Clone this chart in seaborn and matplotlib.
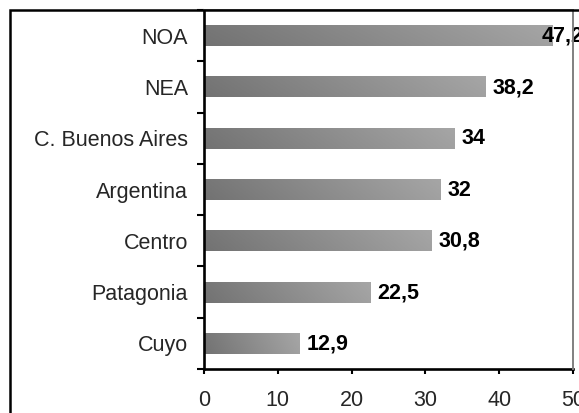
import numpy as np
import pandas as pd
import matplotlib
matplotlib.use("Agg")
import matplotlib.pyplot as plt
from matplotlib.patches import Rectangle
from matplotlib.colors import LinearSegmentedColormap
from matplotlib.ticker import FixedLocator
import seaborn as sns

# Regional values (percent)
regions = ["NOA", "NEA", "C. Buenos Aires", "Argentina", "Centro", "Patagonia", "Cuyo"]
values = [47.2, 38.2, 34, 32, 30.8, 22.5, 12.9]
x_ticks = [0, 10, 20, 30, 40, 50]

df = pd.DataFrame({"region": regions, "value": values})

sns.set_theme(style="white")
plt.rcParams["font.family"] = ["Liberation Sans", "DejaVu Sans"]

W, H, DPI = 579, 413, 100
fig = plt.figure(figsize=(W / DPI, H / DPI), dpi=DPI)
fig.patch.set_facecolor("white")

# plot area in pixel terms
left, right, top, bottom = 204, 573, 10, 369
ax = fig.add_axes([left / W, 1 - bottom / H, (right - left) / W, (bottom - top) / H])

sns.barplot(data=df, x="value", y="region", orient="h", color="#888888",
            width=0.41, ax=ax, zorder=2)

# gradient fill for each bar: darker on the left, lighter to the right
cmap = LinearSegmentedColormap.from_list("bar_grad", ["#727272", "#8c8c8c", "#a6a6a6"])
gx = np.linspace(0, 1, 256)
gy = np.linspace(0, 1, 16)
grad = gx[None, :] * 0.9 + (1 - gy[:, None]) * 0.1
for patch in ax.patches:
    x0, y0 = patch.get_x(), patch.get_y()
    w, h = patch.get_width(), patch.get_height()
    im = ax.imshow(grad, cmap=cmap, vmin=0, vmax=1, aspect="auto",
                   extent=[x0, x0 + w, y0 + h, y0], zorder=2, interpolation="bilinear")
    im.set_clip_path(patch)
    patch.set_facecolor("none")
    patch.set_edgecolor("none")
ax.set_xlim(0, 50)
ax.set_ylim(len(regions) - 0.5, -0.5)
ax.set_xlabel("")
ax.set_ylabel("")

# value labels with comma decimal separator
label_shift = {"NOA": -13}
for i, (r, v) in enumerate(zip(regions, values)):
    txt = f"{v:g}".replace(".", ",")
    ax.annotate(txt, xy=(v, i), xytext=(5 + label_shift.get(r, 0), -0.5),
                textcoords="offset points", ha="left", va="center",
                fontsize=15.5, fontweight="bold", color="black",
                annotation_clip=False, clip_on=False, zorder=5)

# axes styling
ax.set_xticks(x_ticks)
ax.set_xticklabels([str(t) for t in x_ticks], fontsize=15)
ax.tick_params(axis="x", which="major", direction="out", length=3.8, width=1.5,
               color="black", pad=11, labelsize=15.5, bottom=True)
ax.set_yticks(range(len(regions)))
ax.set_yticklabels(regions, fontsize=15)
ax.tick_params(axis="y", which="major", length=0, pad=11.5, labelsize=15.5, left=True)
ax.yaxis.set_minor_locator(FixedLocator(np.arange(-0.5, len(regions), 1.0)))
ax.tick_params(axis="y", which="minor", direction="out", length=5, width=1.5,
               color="black", left=True)

for side in ["left", "bottom"]:
    ax.spines[side].set_color("black")
    ax.spines[side].set_linewidth(1.9)
for side in ["top", "right"]:
    ax.spines[side].set_color("#808080")
    ax.spines[side].set_linewidth(1.4)
    ax.spines[side].set_zorder(6)
ax.grid(False)

# outer chart frame, running off the right and bottom edges
frame = Rectangle((9.5 / W, -0.2), 1.2, 1.2 - 10 / H, transform=fig.transFigure,
                  fill=False, edgecolor="black", linewidth=1.8, zorder=0)
fig.patches.append(frame)

fig.savefig("out.png", dpi=DPI, facecolor="white")
